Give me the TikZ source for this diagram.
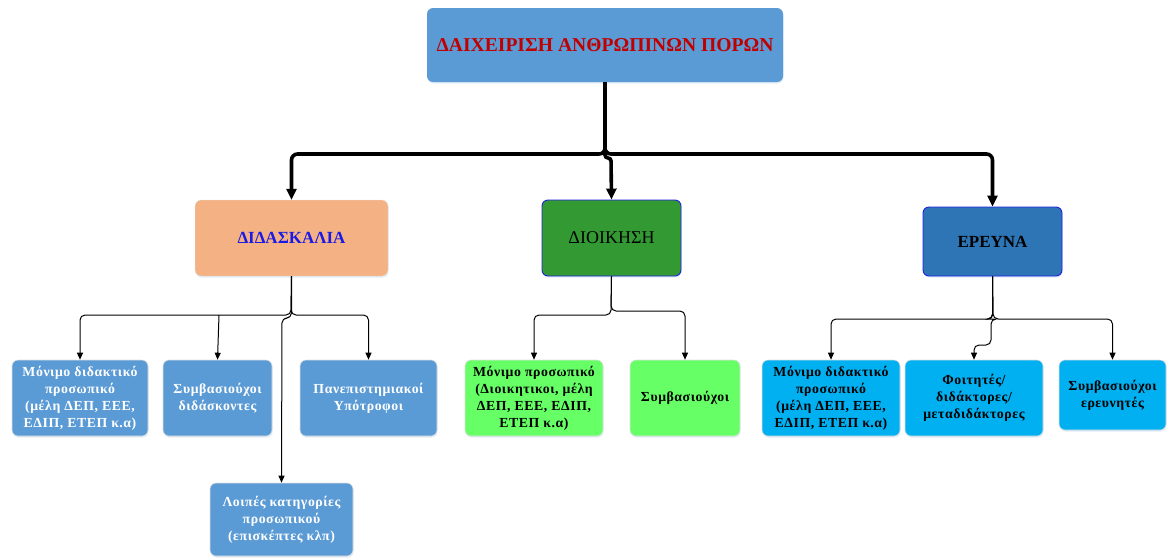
\documentclass[tikz,border=0pt]{standalone}
\usepackage{fontspec}
\setmainfont{Liberation Serif}
\usetikzlibrary{arrows.meta,shadows}
\definecolor{headblue}{HTML}{5B9BD5}
\definecolor{headred}{HTML}{C00000}
\definecolor{teachfill}{HTML}{F4B183}
\definecolor{adminfill}{HTML}{339933}
\definecolor{resfill}{HTML}{2E75B6}
\definecolor{edgeblue}{HTML}{2020E0}
\definecolor{lightgreen}{HTML}{66FF66}
\definecolor{cyanbox}{HTML}{00B0F0}
\definecolor{titleblue}{HTML}{1A1AE6}
\tikzset{
  box/.style={rectangle, rounded corners=6pt, align=center, inner sep=2pt,
    drop shadow={opacity=0.18, fill=headblue, shadow xshift=0.6pt, shadow yshift=-1.6pt}},
  leaf/.style={box, font=\bfseries\fontsize{13.8}{17}\selectfont\addfontfeatures{LetterSpace=4},
    draw=black!12, line width=0.6pt},
  bigline/.style={line width=3.6pt, rounded corners=6pt, -{Triangle[length=11pt,width=10pt]}},
  thinline/.style={line width=1pt, rounded corners=5pt, -{Triangle[length=7pt,width=6pt]}},
}
\begin{document}
\begin{tikzpicture}[x=1pt,y=-1pt]
\useasboundingbox (0,0) rectangle (1168,558);

% root
\node[box, fill=headblue, minimum width=356pt, minimum height=74pt,
  font=\bfseries\fontsize{19.6}{22}\selectfont, text=headred]
  (hr) at (605,45) {ΔΑΙΧΕΙΡΙΣΗ ΑΝΘΡΩΠΙΝΩΝ ΠΟΡΩΝ};

% second level
\node[box, fill=teachfill, draw=black!10, minimum width=193pt, minimum height=76pt,
  font=\bfseries\fontsize{17}{20}\selectfont, text=titleblue]
  (did) at (291.5,238) {ΔΙΔΑΣΚΑΛΙΑ};
\node[box, fill=adminfill, draw=edgeblue, line width=0.9pt, minimum width=139pt, minimum height=76pt,
  font=\fontsize{18}{20}\selectfont]
  (dio) at (611.5,238) {ΔΙΟΙΚΗΣΗ};
\node[box, fill=resfill, draw=edgeblue, line width=0.9pt, minimum width=139pt, minimum height=69pt,
  font=\bfseries\fontsize{17}{20}\selectfont]
  (ere) at (992.5,241.5) {ΕΡΕΥΝΑ};

% teaching staff
\node[leaf, fill=headblue, text=white, minimum width=136pt, minimum height=76pt]
  (lb1) at (80,398) {Μόνιμο διδακτικό\\προσωπικό\\(μέλη ΔΕΠ, ΕΕΕ,\\ΕΔΙΠ, ΕΤΕΠ κ.α)};
\node[leaf, fill=headblue, text=white, minimum width=109pt, minimum height=76pt]
  (lb2) at (217.5,398) {Συμβασιούχοι\\διδάσκοντες};
\node[leaf, fill=headblue, text=white, minimum width=137pt, minimum height=76pt]
  (lb3) at (368.5,398) {Πανεπιστημιακοί\\Υπότροφοι};
\node[leaf, fill=headblue, text=white, minimum width=143pt, minimum height=73pt]
  (lb4) at (281.5,519.5) {Λοιπές κατηγορίες\\προσωπικού\\(επισκέπτες κλπ)};

% administration staff
\node[leaf, fill=lightgreen, minimum width=138pt, minimum height=76pt]
  (mb1) at (534,398) {Μόνιμο προσωπικό\\(Διοικητικοι, μέλη\\ΔΕΠ, ΕΕΕ, ΕΔΙΠ,\\ΕΤΕΠ κ.α)};
\node[leaf, fill=lightgreen, minimum width=110pt, minimum height=76pt]
  (mb2) at (685,398) {Συμβασιούχοι};

% research staff
\node[leaf, fill=cyanbox, minimum width=138pt, minimum height=76pt]
  (rb1) at (831,398) {Μόνιμο διδακτικό\\προσωπικό\\(μέλη ΔΕΠ, ΕΕΕ,\\ΕΔΙΠ, ΕΤΕΠ κ.α)};
\node[leaf, fill=cyanbox, minimum width=138pt, minimum height=76pt]
  (rb2) at (974,398) {Φοιτητές/\\διδάκτορες/\\μεταδιδάκτορες};
\node[leaf, fill=cyanbox, minimum width=107pt, minimum height=70pt]
  (rb3) at (1112.5,395) {Συμβασιούχοι\\ερευνητές};

% root connectors
\draw[bigline] (hr.south) -- (605,154) -| (did.north);
\draw[bigline] (hr.south) -- (605,154) -| (ere.north);
\draw[bigline, rounded corners=3pt] (hr.south) |- (611,158) -- (dio.north);

% teaching connectors
\draw[thinline] (did.south) -- (291,315) -| (lb1.north);
\draw[thinline] (did.south) -- (291,315) -| (lb3.north);
\draw[thinline, rounded corners=0pt] (219,315) -- (lb2.north);
\draw[thinline] (did.south) |- (282,318) -- (lb4.north);

% administration connectors
\draw[thinline] (dio.south) -- (611,315) -| (mb1.north);
\draw[thinline] (dio.south) -- (611,311) -| (mb2.north);

% research connectors
\draw[thinline] (ere.south) -- (993,319) -| (rb1.north);
\draw[thinline] (ere.south) -- (993,319) -| (rb3.north);
\draw[thinline] (ere.south) |- (991,319) -- (991,345) -| (rb2.north);
\end{tikzpicture}
\end{document}
